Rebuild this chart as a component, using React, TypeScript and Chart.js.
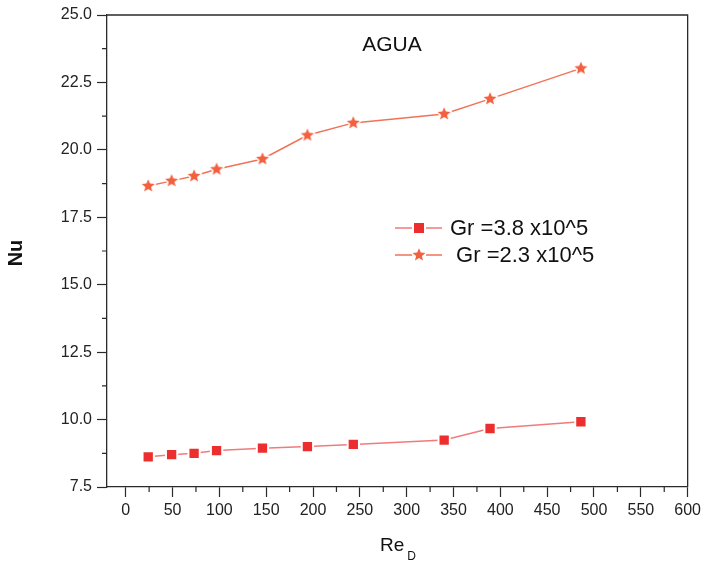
import React, { useEffect, useRef } from "react";
import { Chart, registerables } from "chart.js";

Chart.register(...registerables);

const reD = [24, 49, 73, 97, 146, 194, 243, 340, 389, 486];
const nuGr38 = [8.62, 8.7, 8.75, 8.85, 8.94, 9.0, 9.08, 9.24, 9.67, 9.92];
const nuGr23 = [18.66, 18.85, 19.03, 19.28, 19.66, 20.54, 21.0, 21.33, 21.89, 23.02];
const seriesLabels = ["Gr =3.8 x10^5", " Gr =2.3 x10^5"];
const chartTitle = "AGUA";
const yTitle = "Nu";
const xTitleMain = "Re";
const xTitleSub = "D";

const FONT = "'Liberation Sans', Arial, sans-serif";
const AXIS = "#2a2a2a";
const SQ_FILL = "#ec2e2e";
const SQ_LINE = "#f27a7a";
const ST_FILL = "#f2603f";
const ST_LINE = "#f27257";

function makeStar(color: string, outer: number): HTMLCanvasElement {
  const c = document.createElement("canvas");
  const s = Math.ceil(outer * 2 + 6);
  c.width = s;
  c.height = s;
  const g = c.getContext("2d")!;
  const cx = s / 2, cy = s / 2;
  const inner = outer * 0.45;
  g.beginPath();
  for (let i = 0; i < 10; i++) {
    const r = i % 2 === 0 ? outer : inner;
    const a = -Math.PI / 2 + (i * Math.PI) / 5;
    const px = cx + r * Math.cos(a);
    const py = cy + r * Math.sin(a);
    if (i === 0) g.moveTo(px, py);
    else g.lineTo(px, py);
  }
  g.closePath();
  g.lineJoin = "round";
  g.strokeStyle = "#ffffff";
  g.lineWidth = 3;
  g.stroke();
  g.fillStyle = color;
  g.fill();
  return c;
}

export default function App() {
  const ref = useRef<HTMLCanvasElement | null>(null);

  useEffect(() => {
    const canvas = ref.current;
    if (!canvas) return;
    const star = makeStar(ST_FILL, 6.8);

    const decor = {
      id: "decor",
      afterDraw(chart: any) {
        const { ctx, chartArea: a, scales } = chart;
        const xs = scales.x, ys = scales.y;
        ctx.save();
        ctx.strokeStyle = AXIS;
        ctx.lineWidth = 1.3;
        ctx.beginPath();
        ctx.moveTo(a.left, a.top);
        ctx.lineTo(a.right, a.top);
        ctx.lineTo(a.right, a.bottom);
        ctx.stroke();
        // minor ticks
        ctx.lineWidth = 1.2;
        const xt = xs.ticks.map((t: any) => t.value);
        ctx.beginPath();
        for (let i = 0; i < xt.length - 1; i++) {
          const px = xs.getPixelForValue((xt[i] + xt[i + 1]) / 2);
          ctx.moveTo(px, a.bottom);
          ctx.lineTo(px, a.bottom + 5);
        }
        const yt = ys.ticks.map((t: any) => t.value);
        for (let i = 0; i < yt.length - 1; i++) {
          const py = ys.getPixelForValue((yt[i] + yt[i + 1]) / 2);
          ctx.moveTo(a.left, py);
          ctx.lineTo(a.left - 5, py);
        }
        ctx.stroke();

        // title inside plot
        ctx.fillStyle = "#111";
        ctx.font = `21px ${FONT}`;
        ctx.textAlign = "center";
        ctx.textBaseline = "middle";
        ctx.fillText(chartTitle, 392, 45);

        // y title
        ctx.save();
        ctx.translate(16, 253);
        ctx.rotate(-Math.PI / 2);
        ctx.font = `bold 20px ${FONT}`;
        ctx.fillText(yTitle, 0, 0);
        ctx.restore();

        // x title with subscript
        ctx.textAlign = "left";
        ctx.font = `19px ${FONT}`;
        ctx.fillText(xTitleMain, 380, 546);
        const w = ctx.measureText(xTitleMain).width;
        ctx.font = `12px ${FONT}`;
        ctx.fillText(xTitleSub, 380 + w + 3, 557);

        // legend
        const rows = [
          { y: 228, color: SQ_LINE, marker: "sq" },
          { y: 255, color: ST_LINE, marker: "st" },
        ];
        rows.forEach((r, i) => {
          ctx.strokeStyle = r.color;
          ctx.lineWidth = 1.5;
          ctx.beginPath();
          ctx.moveTo(395, r.y);
          ctx.lineTo(412, r.y);
          ctx.moveTo(426, r.y);
          ctx.lineTo(442, r.y);
          ctx.stroke();
          if (r.marker === "sq") {
            ctx.fillStyle = SQ_FILL;
            ctx.fillRect(419 - 5, r.y - 5, 10, 10);
          } else {
            ctx.drawImage(star, 419 - star.width / 2, r.y - star.height / 2);
          }
          ctx.fillStyle = "#111";
          ctx.font = `22px ${FONT}`;
          ctx.textAlign = "left";
          ctx.textBaseline = "middle";
          ctx.fillText(seriesLabels[i], 450, r.y + 1);
        });
        ctx.restore();
      },
    };

    const chart = new Chart(canvas, {
      type: "scatter",
      data: {
        datasets: [
          {
            label: seriesLabels[0],
            data: reD.map((x, i) => ({ x, y: nuGr38[i] })),
            showLine: true,
            borderColor: SQ_LINE,
            borderWidth: 1.5,
            backgroundColor: SQ_FILL,
            pointStyle: "rect",
            pointRadius: 8,
            pointBorderColor: "#ffffff",
            pointBorderWidth: 2,
          },
          {
            label: seriesLabels[1],
            data: reD.map((x, i) => ({ x, y: nuGr23[i] })),
            showLine: true,
            borderColor: ST_LINE,
            borderWidth: 1.5,
            backgroundColor: ST_FILL,
            pointStyle: star as any,
            pointRadius: 7,
          },
        ],
      },
      options: {
        animation: false,
        responsive: false,
        layout: { padding: { top: 15, right: 17, left: 0, bottom: 0 } },
        plugins: {
          legend: { display: false },
          tooltip: { enabled: false },
          title: { display: false },
        },
        scales: {
          x: {
            type: "linear",
            min: -20,
            max: 600,
            afterFit: (s: any) => {
              s.height = 78;
            },
            ticks: {
              stepSize: 50,
              includeBounds: false,
              padding: 4,
              color: "#222",
              font: { family: FONT, size: 16 },
              maxRotation: 0,
            },
            grid: {
              drawOnChartArea: false,
              drawTicks: true,
              tickLength: 10,
              tickColor: AXIS,
              tickWidth: 1.2,
            },
            border: { display: true, color: AXIS, width: 1.3 },
          },
          y: {
            type: "linear",
            min: 7.5,
            max: 25,
            afterFit: (s: any) => {
              s.width = 107;
            },
            ticks: {
              stepSize: 2.5,
              padding: 5,
              color: "#222",
              font: { family: FONT, size: 16 },
              callback: (v: any) => Number(v).toFixed(1),
            },
            grid: {
              drawOnChartArea: false,
              drawTicks: true,
              tickLength: 10,
              tickColor: AXIS,
              tickWidth: 1.2,
            },
            border: { display: true, color: AXIS, width: 1.3 },
          },
        },
      },
      plugins: [decor],
    } as any);

    return () => chart.destroy();
  }, []);

  return (
    <div style={{ position: "fixed", left: 0, top: 0, width: 705, height: 565, background: "#fff" }}>
      <canvas ref={ref} width={705} height={565} style={{ display: "block" }} />
    </div>
  );
}
